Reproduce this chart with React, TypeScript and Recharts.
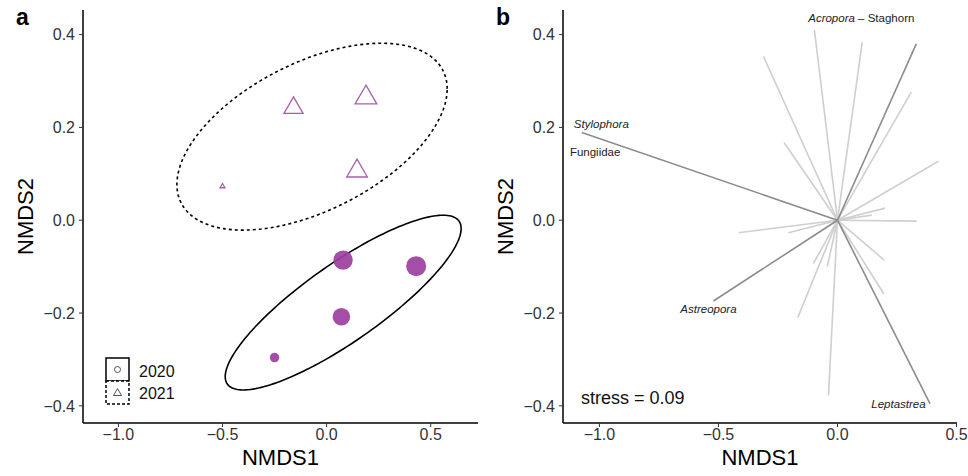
import {
  ScatterChart,
  Scatter,
  XAxis,
  YAxis,
  ZAxis,
  ReferenceLine,
  Legend,
  Label,
} from 'recharts';

const FONT = '"Liberation Sans", Arial, Helvetica, sans-serif';

// axis ticks
const xTicks = [-1, -0.5, 0, 0.5];
const yTicks = [-0.4, -0.2, 0, 0.2, 0.4];

// panel a: site scores, point size = relative cover
const sites2020 = [
  { x: 0.079, y: -0.086, cover: 0.92 },
  { x: 0.43, y: -0.099, cover: 0.98 },
  { x: 0.071, y: -0.208, cover: 0.76 },
  { x: -0.25, y: -0.296, cover: 0.22 },
];
const sites2021 = [
  { x: -0.159, y: 0.242, cover: 0.75 },
  { x: 0.189, y: 0.264, cover: 0.97 },
  { x: 0.146, y: 0.106, cover: 0.88 },
  { x: -0.5, y: 0.073, cover: 0.05 },
];

// ellipses: centre, end of one semi-diameter, end of its conjugate
const ellipse2020 = [
  { x: 0.0795, y: -0.1775 },
  { x: 0.646, y: -0.018 },
  { x: 0.0795, y: -0.0775 },
];
const ellipse2021 = [
  { x: -0.07, y: 0.18 },
  { x: 0.579, y: 0.283 },
  { x: -0.07, y: 0.353 },
];

const years = ['2020', '2021'];

// panel b: fitted taxa vectors
const vectorsStrong = [
  { x: -1.074, y: 0.189 },
  { x: 0.331, y: 0.38 },
  { x: -0.521, y: -0.174 },
  { x: 0.389, y: -0.396 },
];
const vectorsWeak = [
  { x: -0.097, y: 0.41 },
  { x: 0.104, y: 0.384 },
  { x: -0.311, y: 0.353 },
  { x: 0.31, y: 0.276 },
  { x: -0.224, y: 0.167 },
  { x: 0.424, y: 0.127 },
  { x: 0.2, y: 0.026 },
  { x: 0.144, y: 0.011 },
  { x: 0.333, y: -0.002 },
  { x: -0.416, y: -0.027 },
  { x: -0.206, y: -0.027 },
  { x: 0.196, y: -0.086 },
  { x: 0.195, y: -0.159 },
  { x: -0.101, y: -0.093 },
  { x: -0.043, y: -0.1 },
  { x: -0.167, y: -0.21 },
  { x: -0.038, y: -0.378 },
];
const vectorLabels = [
  { x: 0.1, y: 0.436, genus: 'Acropora', rest: ' – Staghorn' },
  { x: -0.992, y: 0.208, genus: 'Stylophora', rest: '' },
  { x: -1.018, y: 0.148, genus: '', rest: 'Fungiidae' },
  { x: -0.542, y: -0.192, genus: 'Astreopora', rest: '' },
  { x: 0.256, y: -0.396, genus: 'Leptastrea', rest: '' },
];
const stressNote = [{ x: -0.86, y: -0.383, text: 'stress = 0.09' }];

const fmt = (v: number) => (v < 0 ? '\u2212' : '') + Math.abs(v).toFixed(1);

const axisLine = { stroke: '#000', strokeWidth: 1.5 };
const tickStyle = { fill: '#333', fontSize: 16, fontFamily: FONT };

const noShape = () => <g />;

// draws the ellipse from centre + two conjugate semi-diameters (pixel points)
const ellipsePath = (dashed: boolean) => (props: any) => {
  const pts = props.points;
  if (!pts || pts.length < 3) return <g />;
  const [c, p, q] = pts;
  const ux = p.x - c.x;
  const uy = p.y - c.y;
  const vx = q.x - c.x;
  const vy = q.y - c.y;
  let d = '';
  for (let i = 0; i <= 180; i++) {
    const t = (i / 180) * Math.PI * 2;
    const x = c.x + ux * Math.cos(t) + vx * Math.sin(t);
    const y = c.y + uy * Math.cos(t) + vy * Math.sin(t);
    d += (i === 0 ? 'M' : 'L') + x.toFixed(2) + ',' + y.toFixed(2);
  }
  return (
    <path
      d={d + 'Z'}
      fill="none"
      stroke="#000"
      strokeWidth={1.6}
      strokeDasharray={dashed ? '3 3' : undefined}
    />
  );
};

const YearKey = () => (
  <svg width={80} height={52} style={{ fontFamily: FONT }}>
    {years.map((yr, i) => (
      <g key={yr}>
        <rect
          x={2}
          y={3 + i * 23}
          width={23}
          height={23}
          fill="#fff"
          stroke="#000"
          strokeWidth={1.5}
          strokeDasharray={i ? '3 2' : undefined}
        />
        {i === 0 ? (
          <circle cx={13.5} cy={14.5} r={3} fill="none" stroke="#555" strokeWidth={1} />
        ) : (
          <path d="M13.5,33.5 L17.5,40.5 L9.5,40.5 Z" fill="none" stroke="#555" strokeWidth={1} />
        )}
        <text x={35} y={16 + i * 22} fontSize={16} fill="#111" dominantBaseline="central">
          {yr}
        </text>
      </g>
    ))}
  </svg>
);

function PanelA() {
  return (
    <ScatterChart width={480} height={476} margin={{ top: 10, right: 2, bottom: 0, left: 33 }}>
      <XAxis
        type="number"
        dataKey="x"
        domain={[-1.17, 0.727]}
        ticks={xTicks}
        allowDataOverflow
        tickFormatter={fmt}
        height={53}
        axisLine={axisLine}
        tickLine={{ stroke: '#333' }}
        tickSize={4}
        tick={tickStyle}
      >
        <Label value="NMDS1" position="insideBottom" offset={11} style={{ fontSize: 22, fill: '#000', fontFamily: FONT }} />
      </XAxis>
      <YAxis
        type="number"
        dataKey="y"
        domain={[-0.437, 0.453]}
        ticks={yTicks}
        allowDataOverflow
        tickFormatter={fmt}
        width={50}
        axisLine={axisLine}
        tickLine={{ stroke: '#333' }}
        tickSize={4}
        tickMargin={4}
        tick={tickStyle}
      >
        <Label
          value="NMDS2"
          angle={-90}
          position="left"
          offset={7.5}
          style={{ fontSize: 22, fill: '#000', fontFamily: FONT, textAnchor: 'middle' }}
        />
      </YAxis>
      <ZAxis zAxisId="c" type="number" dataKey="cover" domain={[0, 1]} range={[0, 320]} />
      <ZAxis zAxisId="t" type="number" dataKey="cover" domain={[0, 1]} range={[0, 210]} />
      <Scatter data={ellipse2020} shape={noShape} line={ellipsePath(false)} isAnimationActive={false} legendType="none" />
      <Scatter data={ellipse2021} shape={noShape} line={ellipsePath(true)} isAnimationActive={false} legendType="none" />
      <Scatter
        data={sites2020}
        zAxisId="c"
        shape="circle"
        fill="#9c3f9f"
        fillOpacity={0.92}
        isAnimationActive={false}
      />
      <Scatter
        data={sites2021}
        zAxisId="t"
        shape="triangle"
        fill="none"
        stroke="#a660a9"
        strokeWidth={1.3}
        isAnimationActive={false}
      />
      <Legend
        layout="horizontal"
        verticalAlign="middle"
        align="center"
        content={() => <YearKey />}
        wrapperStyle={{ left: 104, top: 355, width: 80, height: 52 }}
      />
    </ScatterChart>
  );
}

const renderTaxon = (props: any) => {
  const { cx, cy, payload } = props;
  return (
    <text x={cx} y={cy} textAnchor="middle" dominantBaseline="central" fontSize={11.5} fill="#222" fontFamily={FONT}>
      {payload.genus ? <tspan fontStyle="italic">{payload.genus}</tspan> : null}
      {payload.rest ? <tspan>{payload.rest}</tspan> : null}
    </text>
  );
};

const renderStress = (props: any) => (
  <text x={props.cx} y={props.cy} textAnchor="middle" dominantBaseline="central" fontSize={18} fill="#111" fontFamily={FONT}>
    {props.payload.text}
  </text>
);

function PanelB() {
  return (
    <ScatterChart width={488} height={476} margin={{ top: 10, right: 11, bottom: 0, left: 33 }}>
      <XAxis
        type="number"
        dataKey="x"
        domain={[-1.153, 0.502]}
        ticks={xTicks}
        allowDataOverflow
        tickFormatter={fmt}
        height={53}
        axisLine={axisLine}
        tickLine={{ stroke: '#333' }}
        tickSize={4}
        tick={tickStyle}
      >
        <Label value="NMDS1" position="insideBottom" offset={11} style={{ fontSize: 22, fill: '#000', fontFamily: FONT }} />
      </XAxis>
      <YAxis
        type="number"
        dataKey="y"
        domain={[-0.437, 0.453]}
        ticks={yTicks}
        allowDataOverflow
        tickFormatter={fmt}
        width={50}
        axisLine={axisLine}
        tickLine={{ stroke: '#333' }}
        tickSize={4}
        tickMargin={4}
        tick={tickStyle}
      >
        <Label
          value="NMDS2"
          angle={-90}
          position="left"
          offset={7.5}
          style={{ fontSize: 22, fill: '#000', fontFamily: FONT, textAnchor: 'middle' }}
        />
      </YAxis>
      {vectorsWeak.map((v, i) => (
        <ReferenceLine
          key={'w' + i}
          segment={[{ x: 0, y: 0 }, { x: v.x, y: v.y }]}
          stroke="#cfcfcf"
          strokeWidth={1.6}
          ifOverflow="visible"
        />
      ))}
      {vectorsStrong.map((v, i) => (
        <ReferenceLine
          key={'s' + i}
          segment={[{ x: 0, y: 0 }, { x: v.x, y: v.y }]}
          stroke="#8c8c8c"
          strokeWidth={1.6}
          ifOverflow="visible"
        />
      ))}
      <Scatter data={vectorLabels} shape={renderTaxon} isAnimationActive={false} />
      <Scatter data={stressNote} shape={renderStress} isAnimationActive={false} />
    </ScatterChart>
  );
}

const letter = (left: number) => ({
  position: 'absolute' as const,
  left,
  top: 6,
  fontSize: 23,
  fontWeight: 700,
  lineHeight: '23px',
  fontFamily: FONT,
});

export default function App() {
  return (
    <div style={{ position: 'absolute', left: 0, top: 0, width: 968, height: 476, background: '#fff', fontFamily: FONT }}>
      <div style={{ position: 'absolute', left: 0, top: 0 }}>
        <PanelA />
      </div>
      <div style={{ position: 'absolute', left: 480, top: 0 }}>
        <PanelB />
      </div>
      <div style={letter(16)}>a</div>
      <div style={letter(496)}>b</div>
    </div>
  );
}
